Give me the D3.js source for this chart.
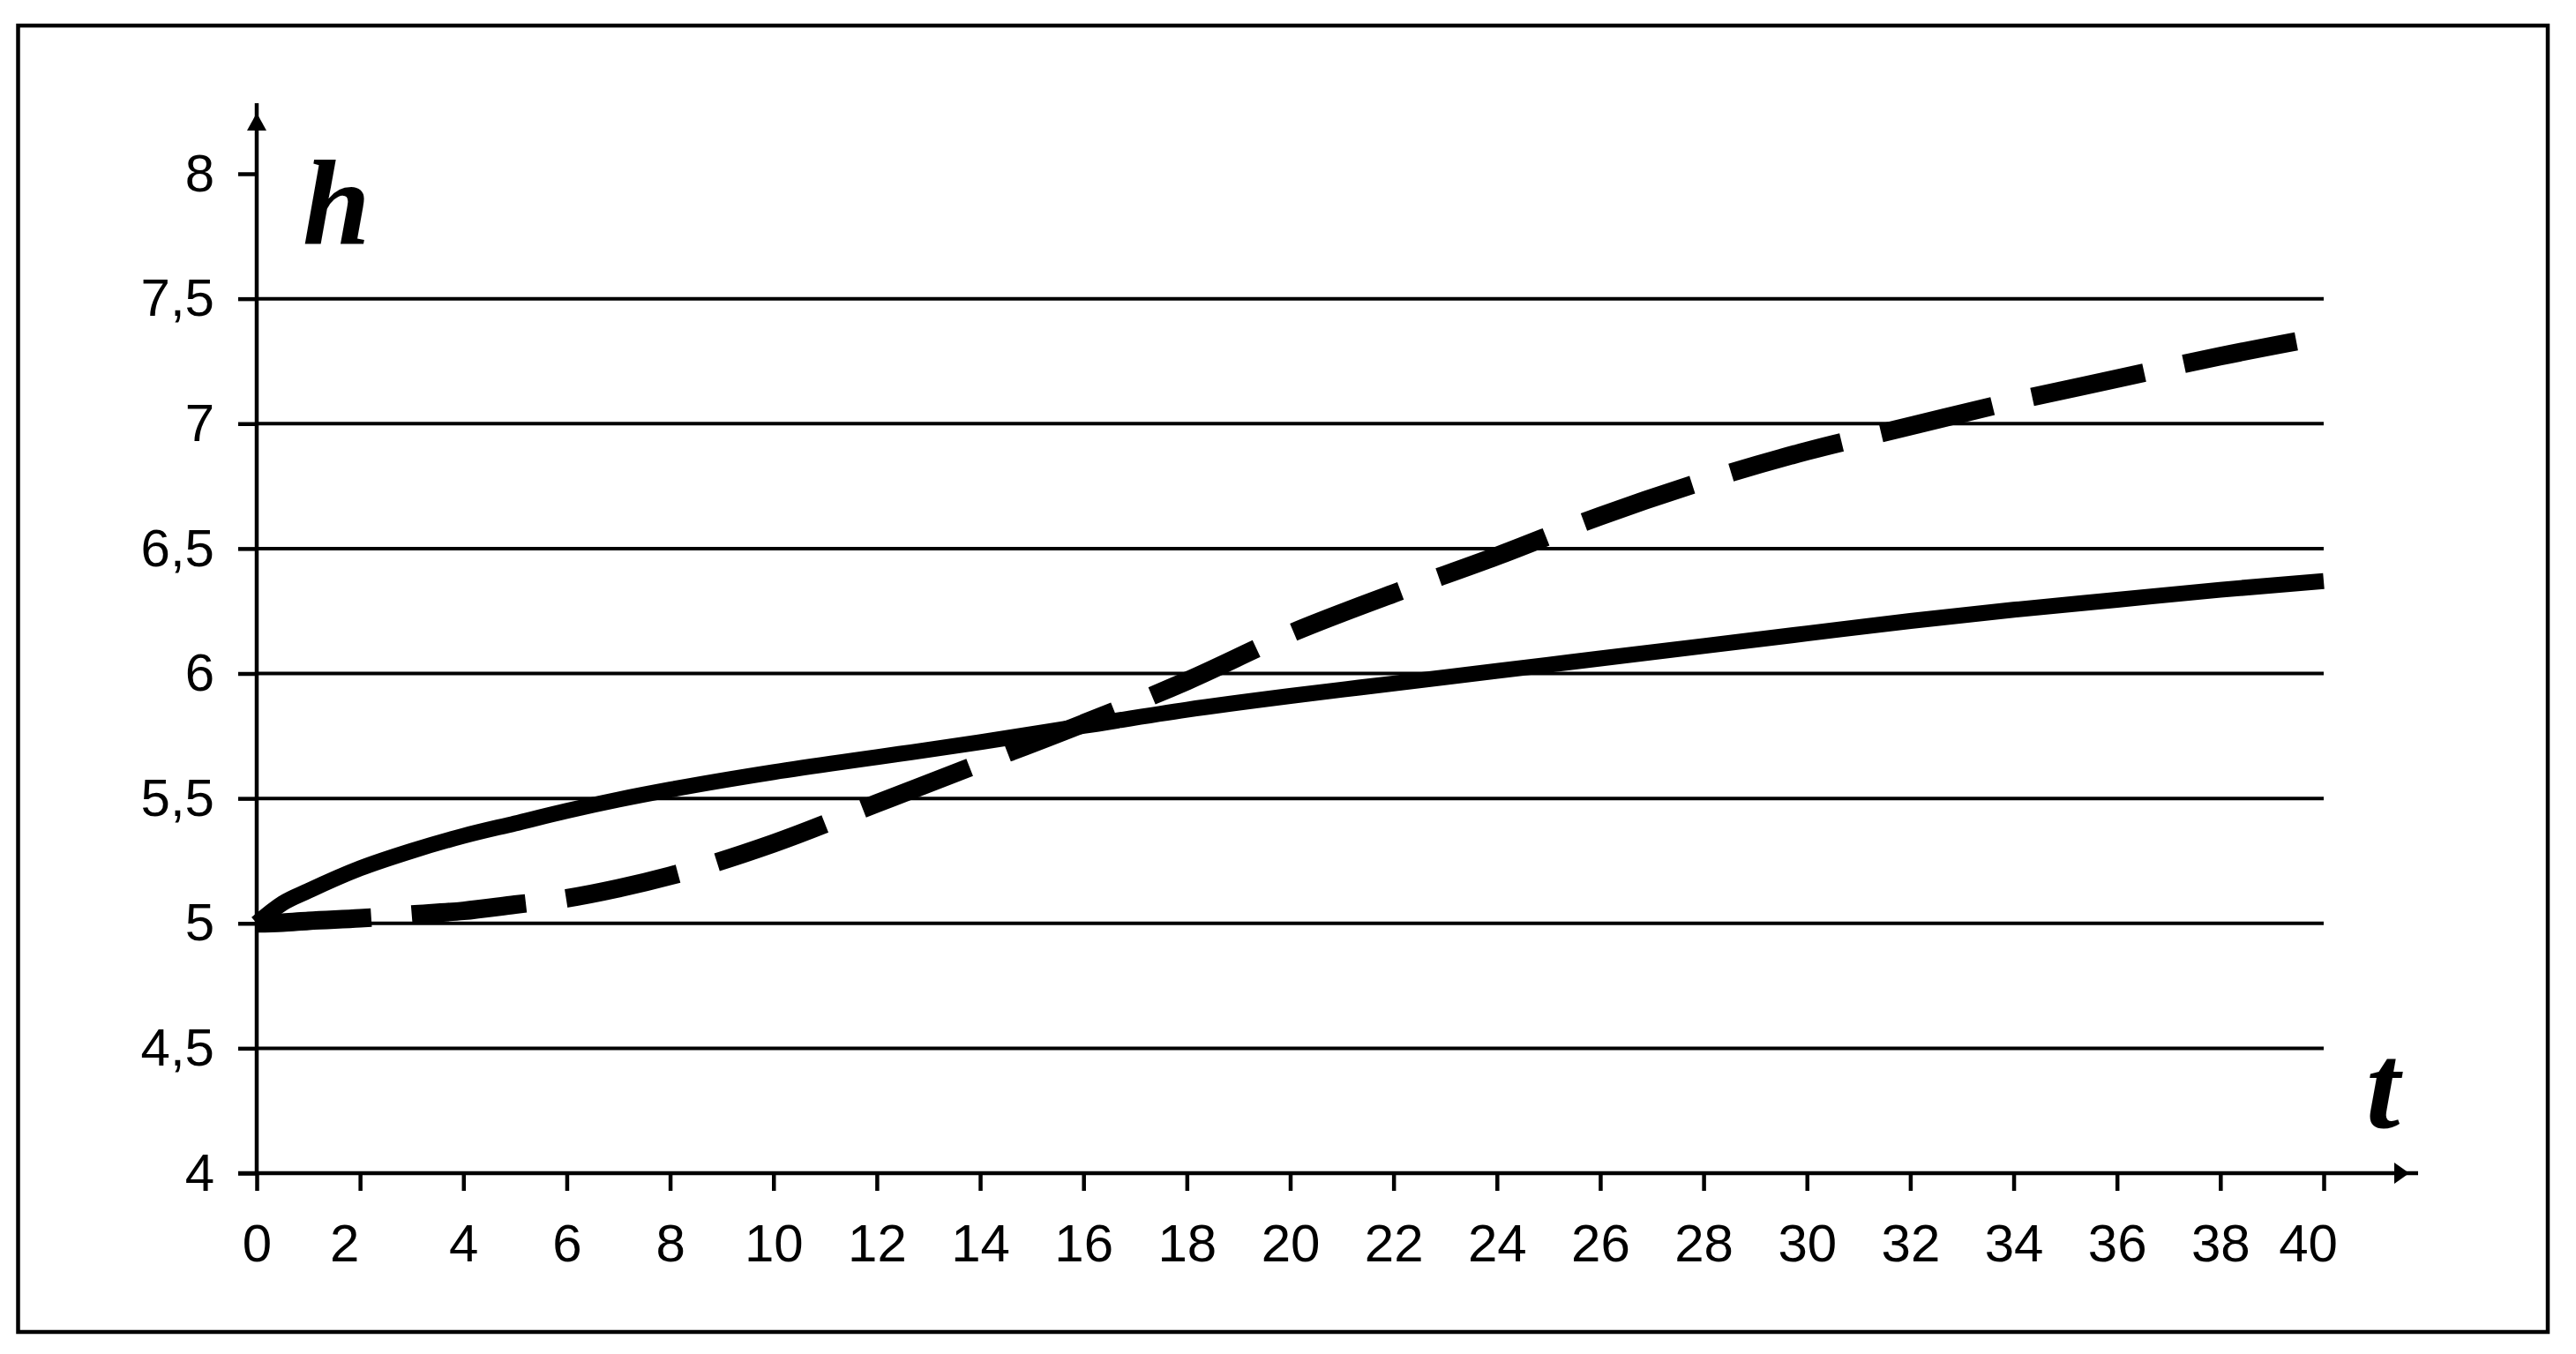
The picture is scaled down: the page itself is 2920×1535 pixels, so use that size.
<!DOCTYPE html>
<html>
<head>
<meta charset="utf-8">
<script src="https://cdn.jsdelivr.net/npm/d3@7"></script>
<style>
  html, body { margin: 0; padding: 0; background: #fff; }
  svg { display: block; }
</style>
</head>
<body>
<svg id="chart" width="2920" height="1535"></svg>
<script>
// ---- data ----
const tValues      = [0, 0.5, 1, 2, 3, 4, 5, 6, 7, 8, 10, 12, 14, 16, 18, 20, 22, 24, 26, 28, 30, 32, 34, 36, 38, 40];
const solidSeries  = [5.00, 5.08, 5.13, 5.22, 5.29, 5.35, 5.40, 5.45, 5.495, 5.535, 5.605, 5.665, 5.725, 5.79, 5.855, 5.91, 5.96, 6.01, 6.06, 6.11, 6.16, 6.21, 6.255, 6.295, 6.335, 6.37];
const dashedSeries = [5.00, 5.003, 5.01, 5.02, 5.035, 5.05, 5.075, 5.10, 5.14, 5.19, 5.32, 5.48, 5.64, 5.80, 5.97, 6.16, 6.32, 6.47, 6.63, 6.77, 6.89, 6.99, 7.09, 7.18, 7.27, 7.35];
const xTicks = [0, 2, 4, 6, 8, 10, 12, 14, 16, 18, 20, 22, 24, 26, 28, 30, 32, 34, 36, 38, 40];
const yTicks = [4, 4.5, 5, 5.5, 6, 6.5, 7, 7.5, 8];
const gridValues = [4.5, 5, 5.5, 6, 6.5, 7, 7.5];
const yAxisLabel = "h";
const xAxisLabel = "t";

// ---- layout ----
const svg = d3.select("#chart");
const x = d3.scaleLinear().domain([0, 40]).range([291, 2634]);
const y = d3.scaleLinear().domain([4, 8]).range([1330, 197]);
const labelFont = "'Liberation Sans', Arial, sans-serif";

// outer frame
svg.append("rect")
  .attr("x", 20.5).attr("y", 29)
  .attr("width", 2867.5).attr("height", 1481)
  .attr("fill", "#fff").attr("stroke", "#000").attr("stroke-width", 4.5);

// gridlines
svg.append("g").selectAll("line").data(gridValues).join("line")
  .attr("x1", x(0)).attr("x2", x(40))
  .attr("y1", d => y(d)).attr("y2", d => y(d))
  .attr("stroke", "#000").attr("stroke-width", 4);

// y axis
const yAxis = d3.axisLeft(y).tickValues(yTicks).tickSize(21).tickPadding(27)
  .tickFormat(d => String(d).replace(".", ","));
const gy = svg.append("g").attr("transform", `translate(${x(0)},0)`).call(yAxis);
gy.select(".domain").remove();
gy.selectAll(".tick line").attr("stroke", "#000").attr("stroke-width", 4.5);
gy.selectAll(".tick text").attr("font-family", labelFont).attr("font-size", 60).attr("fill", "#000");

// x axis
const xAxis = d3.axisBottom(x).tickValues(xTicks).tickSize(20).tickPadding(37);
const gx = svg.append("g").attr("transform", `translate(0,${y(4)})`).call(xAxis);
gx.select(".domain").remove();
gx.selectAll(".tick line").attr("stroke", "#000").attr("stroke-width", 4.5);
gx.selectAll(".tick text").attr("font-family", labelFont).attr("font-size", 60).attr("fill", "#000")
  .attr("dx", d => (d === 2 || d === 40) ? -18 : 0);

// axis lines with arrows
svg.append("line").attr("x1", x(0)).attr("x2", x(0)).attr("y1", 117).attr("y2", y(4))
  .attr("stroke", "#000").attr("stroke-width", 4.5);
svg.append("path")
  .attr("d", `M${x(0)},128 L${x(0) - 11},148 L${x(0) + 11},148 Z`)
  .attr("fill", "#000");
svg.append("line").attr("x1", x(0) - 21).attr("x2", 2741).attr("y1", y(4)).attr("y2", y(4))
  .attr("stroke", "#000").attr("stroke-width", 4.5);
svg.append("path")
  .attr("d", `M2731,${y(4)} L2714,${y(4) - 12} L2714,${y(4) + 12} Z`)
  .attr("fill", "#000");

// series
const pts = arr => tValues.map((t, i) => [t, arr[i]]);
const line = d3.line().x(d => x(d[0])).y(d => y(d[1])).curve(d3.curveMonotoneX);

svg.append("path").datum(pts(dashedSeries))
  .attr("d", line).attr("fill", "none").attr("stroke", "#000")
  .attr("stroke-width", 21).attr("stroke-dasharray", "130,46").attr("stroke-linecap", "butt");

svg.append("path").datum(pts(solidSeries))
  .attr("d", line).attr("fill", "none").attr("stroke", "#000")
  .attr("stroke-width", 18).attr("stroke-linejoin", "round").attr("stroke-linecap", "butt");

// axis name labels
svg.append("text").text(yAxisLabel)
  .attr("x", 343).attr("y", 277)
  .attr("font-family", "'Liberation Serif', 'Times New Roman', serif")
  .attr("font-style", "italic").attr("font-weight", "bold").attr("font-size", 138)
  .attr("fill", "#000");
svg.append("text").text(xAxisLabel)
  .attr("x", 2682).attr("y", 1278)
  .attr("font-family", "'Liberation Serif', 'Times New Roman', serif")
  .attr("font-style", "italic").attr("font-weight", "bold").attr("font-size", 138)
  .attr("fill", "#000");
</script>
</body>
</html>
